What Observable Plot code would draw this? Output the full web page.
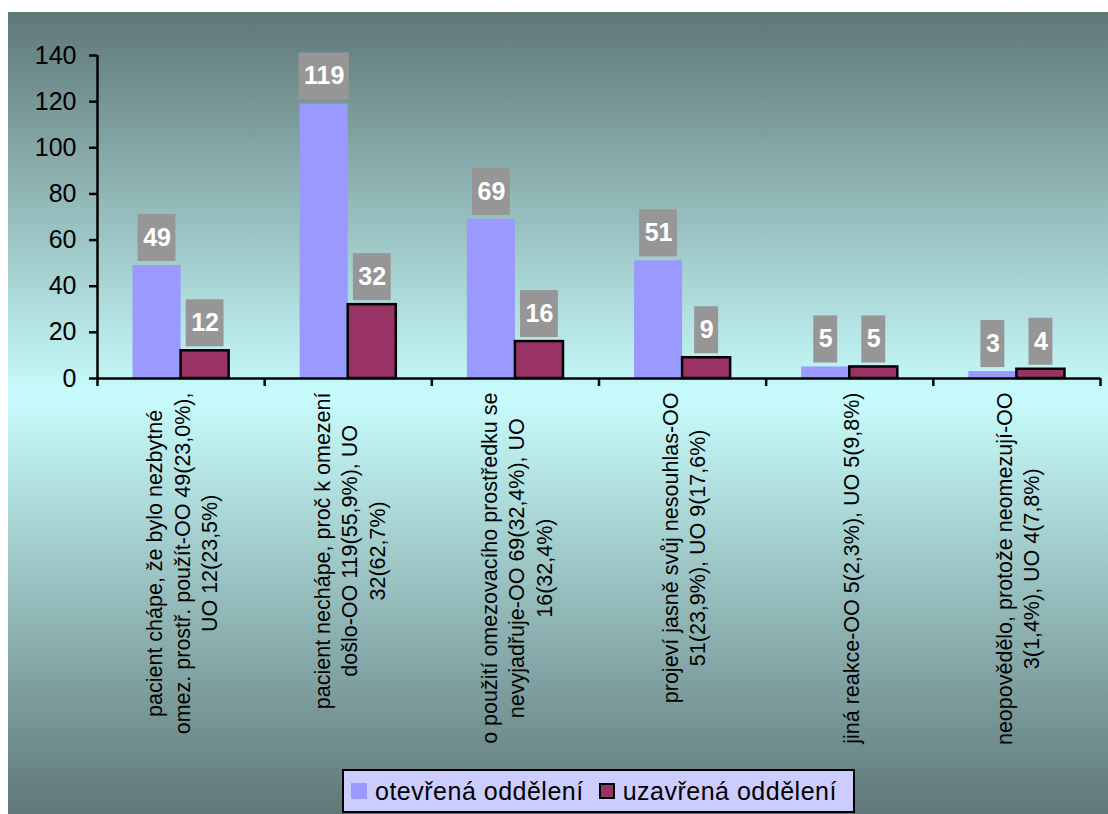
<!DOCTYPE html>
<html>
<head>
<meta charset="utf-8">
<script src="https://cdn.jsdelivr.net/npm/d3@7"></script>
<script src="https://cdn.jsdelivr.net/npm/@observablehq/plot@0.6"></script>
<style>
  html, body { margin: 0; padding: 0; background: #fff; }
  #panel {
    position: absolute; left: 8px; top: 12px; width: 1100px; height: 802px; overflow: hidden;
    background: linear-gradient(to bottom, #5f7777 0%, #c8fcfc 48%, #5f7777 100%);
    font-family: "Liberation Sans", Arial, sans-serif;
  }
  #chart { position: absolute; left: 0; top: 0; }
  #legend {
    position: absolute; left: 334px; top: 757px; width: 513px; height: 44px;
    box-sizing: border-box; border: 2px solid #000; background: #ccccff;
    display: flex; align-items: center; padding-left: 7px;
    font-size: 25px; letter-spacing: 0.5px; color: #000; white-space: nowrap;
  }
  #legend .sw { width: 16px; height: 16px; box-sizing: border-box; flex: none; }
</style>
</head>
<body>
<div id="panel">
  <div id="chart"></div>
  <div id="legend"></div>
</div>
<script>
// Category labels (one line per array entry, joined with line breaks)
const categories = [
  "pacient chápe, že bylo nezbytné\nomez. prostř. použít-OO 49(23,0%),\nUO 12(23,5%)",
  "pacient nechápe, proč k omezení\ndošlo-OO 119(55,9%), UO\n32(62,7%)",
  "o použití omezovacího prostředku se\nnevyjadřuje-OO 69(32,4%), UO\n16(32,4%)",
  "projeví jasně svůj nesouhlas-OO\n51(23,9%), UO 9(17,6%)",
  "jiná reakce-OO 5(2,3%), UO 5(9,8%)",
  "neopovědělo, protože neomezují-OO\n3(1,4%), UO 4(7,8%)"
];
const seriesNames = ["otevřená oddělení", "uzavřená oddělení"];
const openWards = [49, 119, 69, 51, 5, 3];
const closedWards = [12, 32, 16, 9, 5, 4];
const yTicks = [0, 20, 40, 60, 80, 100, 120, 140];
const seriesColors = ["#9999ff", "#993366"];

const W = 1100, H = 745;
const margin = {top: 43, right: 8, bottom: H - 366, left: 89};
const barW = 0.2875; // width of one bar in category units

const rows = [];
categories.forEach((c, i) => {
  rows.push({cat: i, series: seriesNames[0], value: openWards[i], x1: i + 0.5 - barW, x2: i + 0.5});
  rows.push({cat: i, series: seriesNames[1], value: closedWards[i], x1: i + 0.5, x2: i + 0.5 + barW});
});
const openRows = rows.filter(d => d.series === seriesNames[0]);
const closedRows = rows.filter(d => d.series === seriesNames[1]);

const pxPerUnit = (W - margin.left - margin.right) / categories.length;
const barPx = barW * pxPerUnit;

const ctx = document.createElement("canvas").getContext("2d");
const measure = (t, font) => { ctx.font = font; return ctx.measureText(t).width; };
const FAMILY = '"Liberation Sans", Arial, sans-serif';
const valueFont = `bold 25px ${FAMILY}`;
const catSize = 21.5;
const catFont = `${catSize}px ${FAMILY}`;

// grey boxes behind the value labels, sized by the label text
const boxMarks = d3.groups(rows, d => String(d.value).length).map(([, g]) => {
  const w = measure(String(g[0].value), valueFont) + 10;
  const inset = (barPx - w) / 2;
  return Plot.rect(g, {
    x1: "x1", x2: "x2", y1: "value", y2: "value",
    fill: "#969696", insetLeft: inset, insetRight: inset, insetTop: -51, insetBottom: 4
  });
});

// rotated category labels below the axis; the longest line starts just under the axis
const catMarks = categories.map((c, i) => {
  const maxW = d3.max(c.split("\n"), l => measure(l, catFont));
  return Plot.text([c], {
    x: i + 0.5, frameAnchor: "bottom", dy: 14 + maxW / 2,
    rotate: -90, textAnchor: "middle", lineAnchor: "middle", lineHeight: 1.28,
    fontSize: catSize, fill: "#000"
  });
});

const chart = Plot.plot({
  width: W, height: H,
  marginTop: margin.top, marginRight: margin.right, marginBottom: margin.bottom, marginLeft: margin.left,
  style: {background: "transparent", fontFamily: FAMILY, color: "#000", overflow: "visible"},
  x: {domain: [0, categories.length]},
  y: {domain: [0, 140]},
  marks: [
    Plot.rect(openRows, {x1: "x1", x2: "x2", y1: 0, y2: "value", fill: seriesColors[0]}),
    Plot.rect(closedRows, {x1: "x1", x2: "x2", y1: 0, y2: "value", fill: seriesColors[1], stroke: "#000", strokeWidth: 2.5}),
    ...boxMarks,
    Plot.text(rows, {
      x: d => (d.x1 + d.x2) / 2, y: "value", text: d => String(d.value), dy: -27.5,
      fill: "#fff", fontWeight: "bold", fontSize: 25
    }),
    Plot.axisY(yTicks, {tickSize: 8, tickPadding: 13, fontSize: 25, strokeWidth: 2.5, stroke: "#000", fill: "#000", label: null}),
    Plot.axisX(d3.range(categories.length + 1), {tickSize: 8, tickFormat: () => "", strokeWidth: 2.5, stroke: "#000", label: null}),
    Plot.ruleX([0], {strokeWidth: 2.5, stroke: "#000"}),
    Plot.ruleY([0], {strokeWidth: 2.5, stroke: "#000"}),
    ...catMarks
  ]
});
document.getElementById("chart").appendChild(chart);

// legend
const legend = document.getElementById("legend");
seriesNames.forEach((name, i) => {
  const sw = document.createElement("span");
  sw.className = "sw";
  sw.style.background = seriesColors[i];
  if (i === 1) sw.style.border = "2px solid #000";
  sw.style.marginLeft = i === 0 ? "0px" : "15px";
  sw.style.marginRight = i === 0 ? "8px" : "8px";
  const tx = document.createElement("span");
  tx.textContent = name;
  legend.appendChild(sw);
  legend.appendChild(tx);
});
</script>
</body>
</html>
